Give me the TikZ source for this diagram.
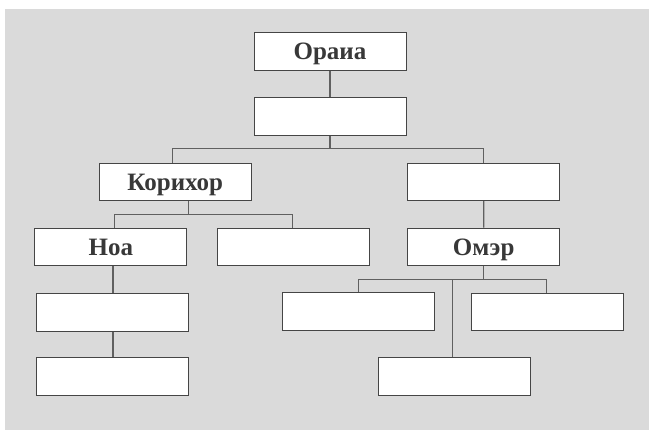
\documentclass[tikz,border=0pt]{standalone}
\usepackage{fontspec}
\setmainfont{Liberation Serif}
\begin{document}
\begin{tikzpicture}[x=1pt,y=-1pt,
  bx/.style={draw=boxline,line width=1pt,fill=white,minimum width=152pt,minimum height=37.5pt,inner sep=0pt,
    font=\fontsize{25}{28}\selectfont\bfseries,text=txt,text height=17pt,text depth=0pt},
  cn/.style={draw=conline,line width=1.3pt}]
\definecolor{bg}{HTML}{DADADA}
\definecolor{boxline}{HTML}{454545}
\definecolor{conline}{HTML}{606060}
\definecolor{txt}{HTML}{383838}
\fill[white] (0,0) rectangle (649,430);
\fill[bg] (5,9) rectangle (649,430);
\useasboundingbox (0,0) rectangle (649,430);
\coordinate (j1) at (330,148.3);
\coordinate (j2) at (188.7,214.7);
\coordinate (j3) at (483.7,279.3);
\node[bx] (top) at (330,51.5) {Ораиа};
\node[bx] (b2) at (330,116.3) {};
\node[bx] (kor) at (175.3,182) {Корихор};
\node[bx] (r3) at (483.8,182) {};
\node[bx] (noa) at (110.8,247) {Ноа};
\node[bx] (mid) at (293,247) {};
\node[bx] (omer) at (483.7,247) {Омэр};
\node[bx] (l5) at (112.5,312.5) {};
\node[bx] (l6) at (112.5,376.7) {};
\node[bx] (ol) at (358.7,311.5) {};
\node[bx] (orr) at (547.3,312) {};
\node[bx] (ob) at (454.3,376.7) {};
\draw[cn] (top.south) -- (b2.north);
\draw[cn] (b2.south) -- (j1);
\draw[cn] (j1) -| ([xshift=-2.6pt]kor.north);
\draw[cn] (j1) -| (r3.north);
\draw[cn] ([xshift=13.4pt]kor.south) -- (j2);
\draw[cn] (j2) -| ([xshift=3.9pt]noa.north);
\draw[cn] (j2) -| ([xshift=-0.7pt]mid.north);
\draw[cn] ([xshift=2.2pt]noa.south) -- ([xshift=0.5pt]l5.north);
\draw[cn] ([xshift=0.5pt]l5.south) -- ([xshift=0.5pt]l6.north);
\draw[cn] (r3.south) -- (omer.north);
\draw[cn] (omer.south) -- (j3);
\draw[cn] (j3) -| (ol.north);
\draw[cn] (j3) -| ([xshift=-0.6pt]orr.north);
\draw[cn] (j3) -| ([xshift=-2pt]ob.north);
\end{tikzpicture}
\end{document}
